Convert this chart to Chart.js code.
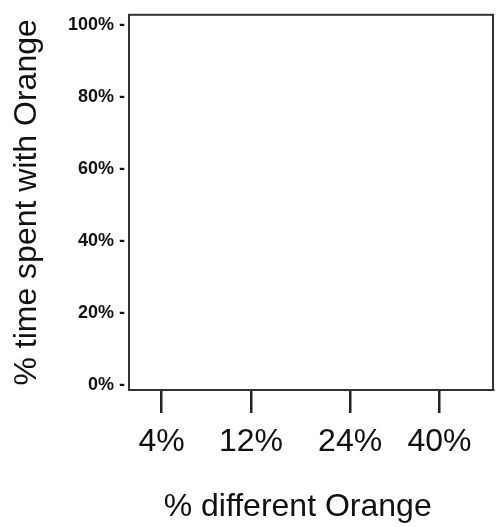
<!DOCTYPE html>
<html>
<head>
<meta charset="utf-8">
<script src="https://cdn.jsdelivr.net/npm/chart.js@4"></script>
<style>
  body { margin: 0; background: #fff; }
  #wrap { width: 499px; height: 527px; }
</style>
</head>
<body>
<div id="wrap"><canvas id="chart"></canvas></div>
<script>
// categories along x and where each sits on the axis
const categories = ['4%', '12%', '24%', '40%'];
const catPos = [1, 2, 3.11, 4.11];
// y tick values (percent)
const yTicks = [0, 20, 40, 60, 80, 100];
// no series were plotted in the original
const seriesValues = [];

const boxPlugin = {
  id: 'box',
  afterDraw(chart) {
    const a = chart.chartArea, ctx = chart.ctx;
    ctx.save();
    ctx.strokeStyle = '#333';
    ctx.lineWidth = 2;
    ctx.strokeRect(a.left, a.top, a.right - a.left, a.bottom - a.top);
    ctx.restore();
  }
};

new Chart(document.getElementById('chart'), {
  type: 'scatter',
  data: {
    datasets: [{ data: seriesValues }]
  },
  options: {
    responsive: true,
    maintainAspectRatio: false,
    animation: false,
    layout: { padding: { top: 12, right: 6, bottom: 0, left: 0 } },
    plugins: { legend: { display: false }, tooltip: { enabled: false } },
    scales: {
      x: {
        type: 'linear',
        min: 0.634,
        max: 4.71,
        afterBuildTicks: axis => { axis.ticks = catPos.map(v => ({ value: v })); },
        afterFit: s => { s.height = 137; },
        grid: { drawOnChartArea: false, drawTicks: true, tickLength: 23, color: '#222', lineWidth: 2.5 },
        border: { display: true, color: '#333', width: 2 },
        ticks: {
          padding: 10,
          maxRotation: 0,
          color: '#111',
          font: { family: 'Liberation Sans', size: 32 },
          callback: (v, i) => categories[i]
        },
        title: {
          display: true,
          text: '% different Orange   ',
          color: '#111',
          font: { family: 'Liberation Sans', size: 32 },
          padding: { top: 0, bottom: 1 }
        }
      },
      y: {
        min: -1.4,
        max: 102.8,
        afterBuildTicks: axis => { axis.ticks = yTicks.map(v => ({ value: v })); },
        afterFit: s => { s.width = 129; },
        grid: { display: false, drawTicks: false },
        border: { display: true, color: '#333', width: 2 },
        ticks: {
          padding: 4,
          color: '#111',
          font: { family: 'Liberation Sans', size: 18, weight: 'bold' },
          callback: v => v + '% -'
        },
        title: {
          display: true,
          text: '% time spent with Orange',
          color: '#111',
          font: { family: 'Liberation Sans', size: 32 },
          padding: { top: 7.5, bottom: 0 }
        }
      }
    }
  },
  plugins: [boxPlugin]
});
</script>
</body>
</html>
